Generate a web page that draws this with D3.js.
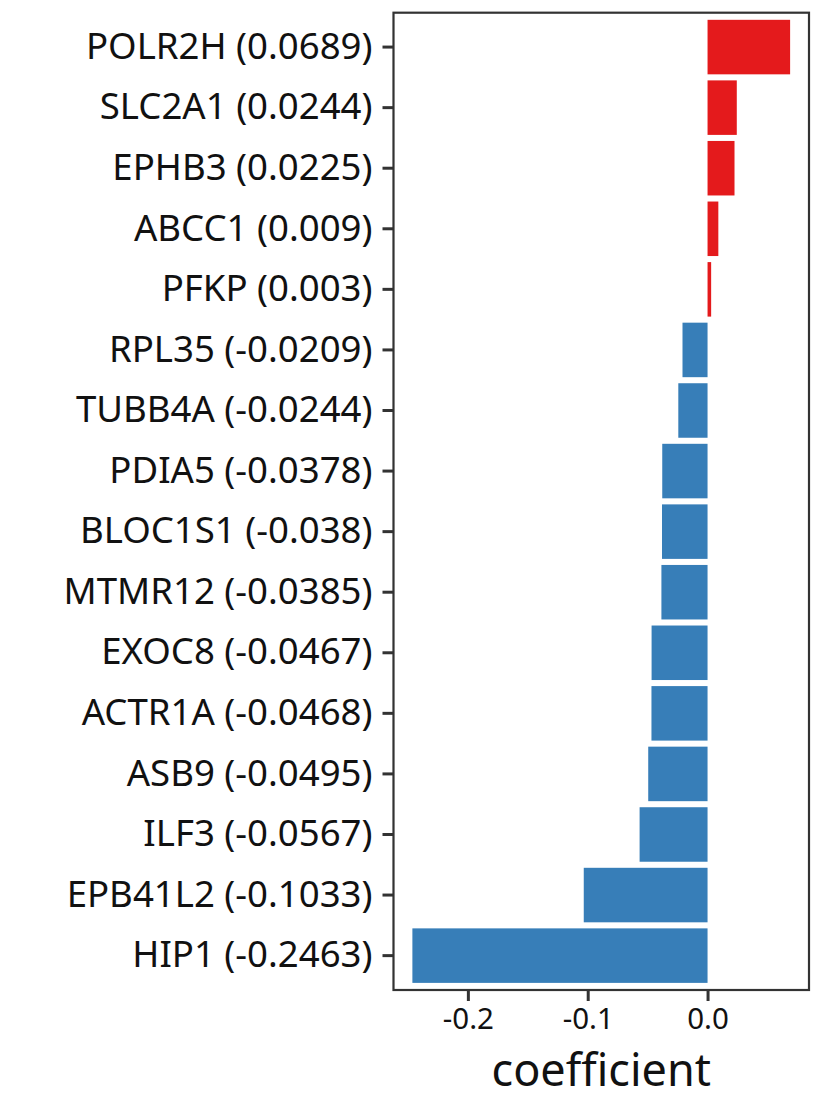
<!DOCTYPE html>
<html>
<head>
<meta charset="utf-8">
<script src="https://cdn.jsdelivr.net/npm/d3@7"></script>
<style>
  body { margin: 0; background: #fff; }
  svg { display: block; }
  svg text { font-family: "Noto Sans", "Open Sans", sans-serif; }
</style>
</head>
<body>
<svg id="chart" width="826" height="1101"></svg>
<script>
// genes, top to bottom
const genes = ["POLR2H", "SLC2A1", "EPHB3", "ABCC1", "PFKP", "RPL35", "TUBB4A", "PDIA5",
  "BLOC1S1", "MTMR12", "EXOC8", "ACTR1A", "ASB9", "ILF3", "EPB41L2", "HIP1"];
const coefs = [0.0689, 0.0244, 0.0225, 0.009, 0.003, -0.0209, -0.0244, -0.0378,
  -0.038, -0.0385, -0.0467, -0.0468, -0.0495, -0.0567, -0.1033, -0.2463];
const xTicks = [-0.2, -0.1, 0.0];

const data = genes.map((g, i) => ({ gene: g, value: coefs[i], label: `${g} (${coefs[i]})` }));

const panel = { left: 393.5, right: 809, top: 12.7, bottom: 990 };
const svg = d3.select("#chart");

// x with 5% expansion like ggplot
const lo = d3.min(coefs), hi = d3.max(coefs), pad = (hi - lo) * 0.05;
const x = d3.scaleLinear().domain([lo - pad, hi + pad]).range([panel.left, panel.right]);

const y = d3.scaleBand()
  .domain(data.map(d => d.label))
  .range([panel.top, panel.bottom])
  .paddingInner(0.1)
  .paddingOuter(0.1175);

// bars
svg.append("g").selectAll("rect")
  .data(data)
  .join("rect")
    .attr("x", d => x(Math.min(0, d.value)))
    .attr("y", d => y(d.label))
    .attr("width", d => Math.abs(x(d.value) - x(0)))
    .attr("height", y.bandwidth())
    .attr("fill", d => d.value > 0 ? "#E41A1C" : "#377EB8");

// panel border
svg.append("rect")
  .attr("x", panel.left).attr("y", panel.top)
  .attr("width", panel.right - panel.left).attr("height", panel.bottom - panel.top)
  .attr("fill", "none").attr("stroke", "#333").attr("stroke-width", 2.2);

// y axis
const yAxis = svg.append("g")
  .attr("transform", `translate(${panel.left},0)`)
  .call(d3.axisLeft(y).tickSize(11).tickPadding(10))
  .attr("font-family", null);
yAxis.select(".domain").remove();
yAxis.selectAll(".tick line").attr("stroke", "#333").attr("stroke-width", 3);
yAxis.selectAll(".tick text").attr("fill", "#111").style("font-size", "36.6px");

// x axis
const xAxis = svg.append("g")
  .attr("transform", `translate(0,${panel.bottom})`)
  .call(d3.axisBottom(x).tickValues(xTicks).tickSize(11).tickPadding(7))
  .attr("font-family", null);
xAxis.select(".domain").remove();
xAxis.selectAll(".tick line").attr("stroke", "#333").attr("stroke-width", 3);
xAxis.selectAll(".tick text").attr("fill", "#111").style("font-size", "29.5px")
  .text(d => d3.format(".1f")(d).replace("−", "-"));

// axis title
svg.append("text")
  .attr("x", (panel.left + panel.right) / 2)
  .attr("y", 1086)
  .attr("text-anchor", "middle")
  .attr("fill", "#111")
  .style("font-size", "45px")
  .text("coefficient");
</script>
</body>
</html>
